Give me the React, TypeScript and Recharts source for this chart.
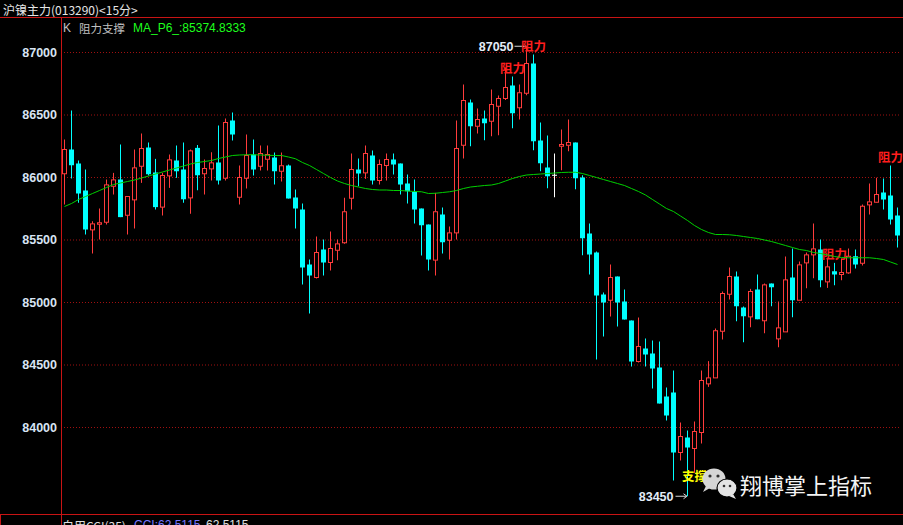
import React from 'react'
import { ComposedChart, Bar, Line, XAxis, YAxis, CartesianGrid } from 'recharts'

// 沪镍主力 15-minute bars, oldest first
const opens = [
  86030, 86224, 86112, 85896, 85581, 85626, 85642, 85930, 85984, 85698,
  85821, 86090, 86240, 86040, 85763, 86013, 86136, 86064, 85837, 86237,
  86030, 86069, 86120, 85994, 86456, 85842, 85994, 86184, 86090, 86146,
  86160, 86050, 86096, 85840, 85744, 85304, 85200, 85424, 85320, 85418,
  85478, 85834, 86064, 86037, 86176, 85976, 86096, 86144, 86112, 85952,
  85885, 85752, 85624, 85339, 85704, 85498, 85557, 86258, 86600, 86410,
  86472, 86450, 86570, 86632, 86736, 86558, 86674, 86912, 86296, 86080,
  86018, 86250, 86258, 86280, 86000, 85552, 85400, 85064, 85018, 85208,
  85008, 84856, 84528, 84632, 84592, 84480, 84248, 84280, 83800, 83920,
  83832, 83960, 84349, 84397, 84770, 85066, 85208, 84960, 84885, 85104,
  84854, 85152, 84709, 84765, 85200, 85018, 85317, 85381, 85424, 85165,
  85250, 85224, 85237, 85370, 85314, 85781, 85802, 85880, 85856, 85696,
]
const highs = [
  86304, 86536, 86136, 86064, 85650, 85752, 85984, 86037, 86264, 85848,
  86224, 86352, 86280, 86149, 86037, 86184, 86256, 86280, 86224, 86260,
  86144, 86202, 86416, 86472, 86520, 86096, 86344, 86304, 86256, 86256,
  86200, 86200, 86104, 85904, 85792, 85344, 85528, 85504, 85568, 85504,
  85838, 86192, 86152, 86256, 86216, 86144, 86192, 86192, 86112, 86024,
  85984, 85752, 85624, 85877, 85760, 85608, 86456, 86744, 86624, 86552,
  86536, 86704, 86656, 86880, 86808, 86744, 87050, 86984, 86440, 86336,
  86192, 86384, 86464, 86280, 86018, 85632, 85408, 85080, 85304, 85208,
  85104, 84856, 84880, 84712, 84696, 84688, 84320, 84456, 84040, 83976,
  84048, 84456, 84531, 84792, 85088, 85280, 85248, 84968, 85109, 85224,
  85152, 85152, 85008, 85368, 85432, 85328, 85400, 85632, 85504, 85358,
  85317, 85352, 85432, 85424, 85784, 85952, 85998, 85992, 86096, 85760,
]
const lows = [
  85784, 85992, 85798, 85544, 85392, 85504, 85624, 85864, 85683, 85544,
  85592, 85957, 86016, 85744, 85696, 85917, 85997, 85798, 85710, 85898,
  85864, 85976, 85944, 85976, 86296, 85784, 85912, 86016, 86056, 86056,
  85944, 85968, 85832, 85592, 85144, 84912, 85192, 85216, 85256, 85338,
  85470, 85744, 85930, 85989, 85944, 85944, 85976, 86024, 85864, 85792,
  85632, 85376, 85256, 85216, 85392, 85344, 85504, 86152, 86250, 86352,
  86298, 86330, 86338, 86620, 86394, 86464, 86658, 86218, 86050, 85914,
  85842, 86058, 86210, 85906, 85378, 85224, 84544, 84728, 84888, 84808,
  84864, 84488, 84520, 84488, 84312, 84192, 84056, 83576, 83736, 83450,
  83637, 83872, 84325, 84397, 84704, 85024, 84850, 84682, 84802, 84866,
  84754, 84970, 84642, 84765, 84882, 85018, 85114, 85194, 85122, 85117,
  85138, 85178, 85230, 85272, 85296, 85704, 85800, 85744, 85624, 85440,
]
const closes = [
  86224, 86098, 85872, 85584, 85629, 85638, 85941, 85981, 85683, 85848,
  86077, 86232, 86026, 85763, 86016, 86141, 86050, 85826, 86213, 86018,
  86072, 86117, 85976, 86440, 86344, 86000, 86176, 86064, 86192, 86184,
  86050, 86094, 85832, 85752, 85280, 85216, 85400, 85320, 85432, 85469,
  85726, 86064, 86032, 86192, 85976, 86104, 86144, 86104, 85944, 85890,
  85744, 85618, 85344, 85726, 85482, 85557, 86232, 86616, 86410, 86464,
  86434, 86584, 86632, 86720, 86514, 86678, 86912, 86290, 86114, 86010,
  86018, 86264, 86280, 85994, 85514, 85384, 85056, 85000, 85200, 85000,
  84864, 84528, 84648, 84584, 84472, 84192, 84096, 83800, 83928, 83840,
  83968, 84376, 84397, 84774, 85072, 85208, 84970, 84890, 85088, 84866,
  85141, 85122, 84797, 85181, 85018, 85301, 85381, 85429, 85178, 85285,
  85224, 85240, 85370, 85304, 85770, 85805, 85864, 85824, 85664, 85536,
]
const maP6 = [
  85768, 85792, 85824, 85848, 85872, 85896, 85920, 85944, 85956, 85968,
  85980, 85996, 86012, 86028, 86044, 86060, 86076, 86092, 86108, 86120,
  86128, 86136, 86152, 86164, 86176, 86180, 86182, 86182, 86180, 86178,
  86176, 86176, 86164, 86150, 86120, 86096, 86064, 86032, 86000, 85972,
  85952, 85936, 85924, 85912, 85904, 85900, 85900, 85896, 85896, 85892,
  85888, 85886, 85872, 85874, 85880, 85886, 85896, 85912, 85924, 85930,
  85936, 85940, 85952, 85972, 85992, 86008, 86020, 86024, 86028, 86032,
  86036, 86040, 86042, 86042, 86032, 86016, 86000, 85984, 85968, 85952,
  85936, 85912, 85888, 85860, 85824, 85788, 85752, 85728, 85692, 85656,
  85616, 85584, 85560, 85544, 85544, 85542, 85536, 85528, 85520, 85512,
  85500, 85488, 85472, 85456, 85440, 85424, 85416, 85400, 85392, 85380,
  85368, 85360, 85358, 85358, 85358, 85358, 85352, 85344, 85324, 85304,
]

// bars flagged by the 阻力支撑 formula
const resistBars = [64, 67, 110, 118]
const supportBars = [90]
const priceTicks = [84000, 84500, 85000, 85500, 86000, 86500, 87000]
const maLast = '85374.8333'

const UP = '#ff3c3c'
const DOWN = '#00ffff'
const FRAME = '#c81414'
const CJK = '"Noto Sans CJK SC", sans-serif'
const NUM = '"Liberation Sans", Arial, sans-serif'

const topIdx = highs.indexOf(Math.max(...highs))
const bottomIdx = lows.indexOf(Math.min(...lows))

const data = opens.map((open, i) => ({
  i,
  open,
  high: highs[i],
  low: lows[i],
  close: closes[i],
  ma: maP6[i],
}))

function Candle(props: any) {
  const { x, y, width, height, payload } = props
  if (!payload) return null
  const { i, open, high, low, close } = payload
  const top = Math.min(y, y + height)
  const k = high > low ? Math.abs(height) / (high - low) : 0
  const py = (v: number) => top + (high - v) * k
  const cx = x + width / 2
  const yH = py(high)
  const yL = py(low)
  const bTop = Math.min(py(open), py(close))
  const bBot = Math.max(py(open), py(close))
  const parts: any[] = []

  if (close > open) {
    parts.push(<line key="uw" x1={cx} x2={cx} y1={yH} y2={bTop} stroke={UP} />)
    parts.push(<line key="lw" x1={cx} x2={cx} y1={bBot} y2={yL} stroke={UP} />)
    parts.push(
      <rect key="b" x={x + 0.5} y={bTop} width={width - 1} height={Math.max(bBot - bTop, 1)}
        fill="none" stroke={UP} />
    )
  } else if (close < open) {
    parts.push(<line key="w" x1={cx} x2={cx} y1={yH} y2={yL} stroke={DOWN} />)
    parts.push(
      <rect key="b" x={x} y={bTop} width={width} height={Math.max(bBot - bTop, 1)} fill={DOWN} />
    )
  } else {
    parts.push(<line key="w" x1={cx} x2={cx} y1={yH} y2={yL} stroke="#ffffff" />)
    parts.push(<line key="b" x1={x} x2={x + width} y1={bTop} y2={bTop} stroke="#ffffff" />)
  }

  if (resistBars.includes(i)) {
    parts.push(
      <text key="r" x={cx} y={yH - 4} textAnchor="middle" fill="#ff1e1e" fontSize={12.5}
        fontWeight="bold" fontFamily={CJK}>阻力</text>
    )
  }
  if (supportBars.includes(i)) {
    parts.push(
      <text key="s" x={cx} y={yL + 8.5} textAnchor="middle" fill="#ffff00" fontSize={12.5}
        fontWeight="bold" fontFamily={CJK}>支撑</text>
    )
  }
  if (i === topIdx) {
    parts.push(<line key="tl" x1={cx - 12} x2={cx} y1={yH} y2={yH} stroke="#d8d8d8" />)
    parts.push(
      <text key="tt" x={cx - 13} y={yH} dy="0.35em" textAnchor="end" fill="#e4ecf8"
        fontSize={12.5} fontWeight="bold" fontFamily={NUM}>{high}</text>
    )
  }
  if (i === bottomIdx) {
    parts.push(<line key="bl" x1={cx - 12} x2={cx - 1} y1={yL} y2={yL} stroke="#d8d8d8" />)
    parts.push(
      <path key="ba" d={`M${cx - 4},${yL - 2.5} L${cx - 0.5},${yL} L${cx - 4},${yL + 2.5}`}
        fill="none" stroke="#d8d8d8" />
    )
    parts.push(
      <text key="bt" x={cx - 14} y={yL} dy="0.35em" textAnchor="end" fill="#e4ecf8"
        fontSize={12.5} fontWeight="bold" fontFamily={NUM}>{low}</text>
    )
  }
  return <g>{parts}</g>
}

function Overlay() {
  return (
    <svg width={903} height={525} style={{ position: 'absolute', left: 0, top: 0, pointerEvents: 'none' }}>
      <text x={3} y={9.5} dominantBaseline="central" fill="#e6e6e6" fontSize={12} fontFamily={CJK}>
        {'沪镍主力(013290)<15分>'}
      </text>
      <line x1={0} x2={903} y1={17.5} y2={17.5} stroke={FRAME} />
      <line x1={61.5} x2={61.5} y1={17} y2={525} stroke={FRAME} />
      <line x1={0} x2={903} y1={514.5} y2={514.5} stroke={FRAME} />
      <rect x={0.5} y={514.5} width={61} height={20} fill="none" stroke={FRAME} />

      <text x={63} y={27.5} dominantBaseline="central" fill="#c0c0c0" fontSize={12} fontFamily={NUM}>K</text>
      <text x={79} y={27.5} dominantBaseline="central" fill="#c0c0c0" fontSize={11.5} fontFamily={CJK}>阻力支撑</text>
      <text x={133} y={27.5} dominantBaseline="central" fill="#1eff1e" fontSize={12} fontFamily={NUM}>
        {`MA_P6_:${maLast}`}
      </text>

      <text x={62} y={525} dominantBaseline="central" fill="#e0e0e0" fontSize={12} fontFamily={CJK}>自用CCI(35)</text>
      <text x={134} y={525} dominantBaseline="central" fill="#7878ff" fontSize={12} fontFamily={NUM}>CCI:62.5115</text>
      <text x={206} y={525} dominantBaseline="central" fill="#e0e0e0" fontSize={12} fontFamily={NUM}>62.5115</text>

      {/* wechat badge */}
      <g>
        <ellipse cx={714} cy={479} rx={11.5} ry={10.5} fill="#d6d6d6" />
        <path d="M706,486 L703,492 L710,488 Z" fill="#d6d6d6" />
        <circle cx={710} cy={476} r={1.6} fill="#303030" />
        <circle cx={718} cy={476} r={1.6} fill="#303030" />
        <ellipse cx={727} cy={488} rx={10} ry={9} fill="#e4e4e4" stroke="#000" strokeWidth={1.2} />
        <path d="M733,494 L736,499 L729,496 Z" fill="#e4e4e4" />
        <circle cx={724} cy={486} r={1.3} fill="#303030" />
        <circle cx={730} cy={486} r={1.3} fill="#303030" />
      </g>
      <text x={740} y={484} dominantBaseline="central" fill="#f4f4f4" fontSize={22} fontFamily={CJK}>翔博掌上指标</text>
    </svg>
  )
}

export default function App() {
  return (
    <div style={{ position: 'absolute', left: 0, top: 0, width: 903, height: 525, background: '#000', overflow: 'hidden' }}>
      <ComposedChart width={903} height={525} data={data}
        margin={{ top: 19.5, right: 2, bottom: 17.5, left: 0 }}>
        <CartesianGrid vertical={false} stroke="#a01010" strokeDasharray="1 2" horizontalValues={priceTicks} />
        <XAxis dataKey="i" hide />
        <YAxis
          domain={[83360, 87264]}
          ticks={priceTicks}
          interval={0}
          allowDataOverflow
          width={61}
          axisLine={false}
          tickLine={false}
          tickSize={0}
          tickMargin={4}
          tick={{ fill: '#d8e4f4', fontSize: 12.5, fontWeight: 'bold', fontFamily: NUM }}
        />
        <Bar dataKey={(d: any) => [d.low, d.high]} barSize={5} shape={Candle} isAnimationActive={false} />
        <Line type="linear" dataKey="ma" stroke="#00d000" strokeWidth={1} dot={false} activeDot={false}
          isAnimationActive={false} />
      </ComposedChart>
      <Overlay />
    </div>
  )
}
